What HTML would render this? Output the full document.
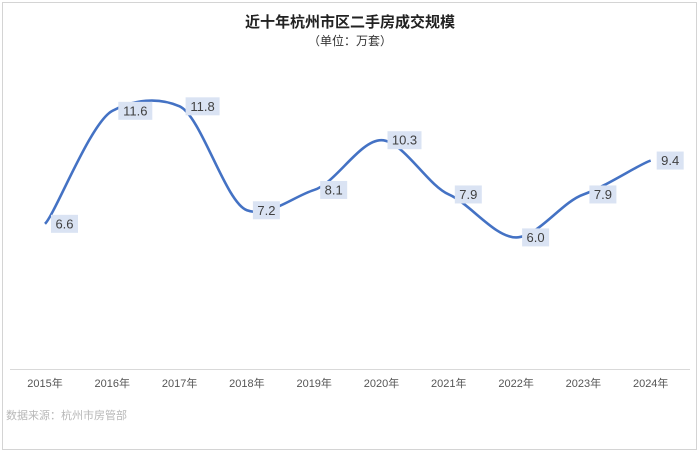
<!DOCTYPE html>
<html><head><meta charset="utf-8"><style>
body{margin:0;background:#fff;}
svg{display:block;font-family:"Liberation Sans","Noto Sans CJK SC",sans-serif;}
</style></head><body>
<svg width="700" height="453" viewBox="0 0 700 453">
<rect x="2.5" y="2.5" width="694" height="447" fill="#fff" stroke="#d4d4d4"/>
<text x="350" y="27" text-anchor="middle" font-size="15" font-weight="bold" fill="#222">近十年杭州市区二手房成交规模</text>
<text x="350" y="45" text-anchor="middle" font-size="12" fill="#333">（单位：万套）</text>
<line x1="10" y1="369.5" x2="690" y2="369.5" stroke="#d9d9d9"/>
<g id="xlabels"></g>
<path id="line" fill="none" stroke="#4472c4" stroke-width="2.6"/>
<g id="labels"></g>
<text x="6" y="419" font-size="11" fill="#888" opacity="0.6">数据来源：杭州市房管部</text>
</svg>
<script>
const categories=["2015年","2016年","2017年","2018年","2019年","2020年","2021年","2022年","2023年","2024年"];
const values=[6.6,11.6,11.8,7.2,8.1,10.3,7.9,6.0,7.9,9.4];
const NS="http://www.w3.org/2000/svg";
function xs(i){return 45+i*67.3;}
function ys(v){return 373-22.6*v;}
const pts=values.map((v,i)=>[xs(i),ys(v)]);
let d="M"+pts[0][0]+","+pts[0][1];
const t=0.16;
for(let i=0;i<pts.length-1;i++){
 const p0=pts[Math.max(i-1,0)],p1=pts[i],p2=pts[i+1],p3=pts[Math.min(i+2,pts.length-1)];
 const c1=[p1[0]+(p2[0]-p0[0])*t,p1[1]+(p2[1]-p0[1])*t*0.6];
 const c2=[p2[0]-(p3[0]-p1[0])*t,p2[1]-(p3[1]-p1[1])*t*0.6];
 d+=" C"+c1+" "+c2+" "+p2;
}
document.getElementById("line").setAttribute("d",d);
const xl=document.getElementById("xlabels");
categories.forEach((c,i)=>{
 const tx=document.createElementNS(NS,"text");
 tx.setAttribute("x",xs(i));tx.setAttribute("y",387);
 tx.setAttribute("text-anchor","middle");tx.setAttribute("font-size","11");tx.setAttribute("fill","#555");
 tx.textContent=c;
 
 
 xl.appendChild(tx);
});
const lg=document.getElementById("labels");
values.forEach((v,i)=>{
 const s=v.toFixed(1);
 const w=s.length*7+6;
 const x=xs(i)+6,y=ys(v);
 const g=document.createElementNS(NS,"g");
 
 
 const r=document.createElementNS(NS,"rect");
 r.setAttribute("x",x);r.setAttribute("y",y-9);r.setAttribute("width",w);r.setAttribute("height",18);
 r.setAttribute("fill","#dae3f3");
 const tx=document.createElementNS(NS,"text");
 tx.setAttribute("x",x+w/2);tx.setAttribute("y",y+4.5);tx.setAttribute("text-anchor","middle");
 tx.setAttribute("font-size","13");tx.setAttribute("fill","#404040");
 tx.textContent=s;
 g.appendChild(r);g.appendChild(tx);lg.appendChild(g);
});
</script>
</body></html>
